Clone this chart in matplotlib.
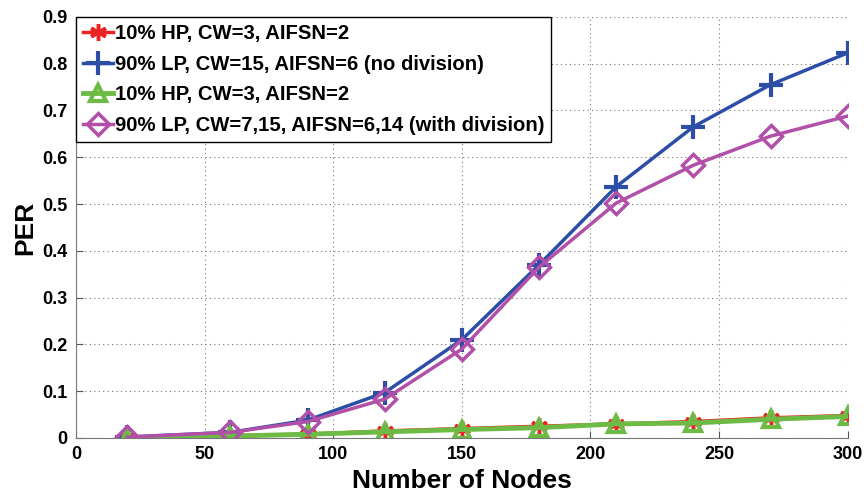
import matplotlib
matplotlib.use('Agg')
import matplotlib.pyplot as plt

plt.rcParams['font.family'] = ['Liberation Sans', 'DejaVu Sans']
plt.rcParams['font.weight'] = 'bold'

nodes = [20, 60, 90, 120, 150, 180, 210, 240, 270, 300]
hp_nodiv = [0.002, 0.005, 0.008, 0.015, 0.020, 0.025, 0.030, 0.035, 0.043, 0.048]
lp_nodiv = [0.002, 0.012, 0.038, 0.097, 0.210, 0.370, 0.537, 0.665, 0.755, 0.823]
hp_div = [0.001, 0.004, 0.008, 0.013, 0.018, 0.022, 0.030, 0.032, 0.040, 0.046]
lp_div = [0.002, 0.012, 0.035, 0.083, 0.190, 0.365, 0.502, 0.583, 0.645, 0.688]

labels = ['10% HP, CW=3, AIFSN=2',
          '90% LP, CW=15, AIFSN=6 (no division)',
          '10% HP, CW=3, AIFSN=2',
          '90% LP, CW=7,15, AIFSN=6,14 (with division)']

fig = plt.figure(figsize=(8.67, 4.96), dpi=100)
ax = fig.add_axes([0.0877, 0.117, 0.890, 0.849])

ax.plot(nodes, hp_nodiv, color='#ee2222', lw=2.5, marker=(6, 2, 0), ms=12, mew=2.5, label=labels[0])
ax.plot(nodes, lp_nodiv, color='#2c4ea6', lw=2.5, marker='+', ms=17, mew=3, label=labels[1])
ax.plot(nodes, hp_div, color='#6dbb45', lw=3.5, marker='^', ms=12, mew=3, mfc='none', label=labels[2])
ax.plot(nodes, lp_div, color='#b24fa8', lw=2.5, marker='D', ms=11, mew=2.5, mfc='none', label=labels[3])

ax.set_xlim(0, 300)
ax.set_ylim(0, 0.9)
ax.set_xticks(range(0, 301, 50))
ax.set_yticks([i / 10 for i in range(10)])
ax.set_yticklabels(['0'] + ['%.1f' % (i / 10) for i in range(1, 10)])
ax.grid(True, linestyle=(0, (1, 3)), color='#777777', lw=0.8)
for s in ['top', 'right']:
    ax.spines[s].set_visible(False)
for s in ['left', 'bottom']:
    ax.spines[s].set_color('#777777')
ax.tick_params(direction='in', length=5, color='#555555', labelsize=13, pad=6)
for t in ax.get_xticklabels() + ax.get_yticklabels():
    t.set_fontweight('bold')

ax.set_xlabel('Number of Nodes', fontsize=19, fontweight='bold', labelpad=4)
ax.set_ylabel('PER', fontsize=19, fontweight='bold', labelpad=4)

leg = ax.legend(loc='upper left', fontsize=14.6, handlelength=1.45, handletextpad=0.1,
                borderaxespad=0, borderpad=0.35, labelspacing=0.58, fancybox=False,
                framealpha=1)
leg.get_frame().set_edgecolor('black')
leg.get_frame().set_linewidth(1)

fig.savefig('out.png', dpi=100)
